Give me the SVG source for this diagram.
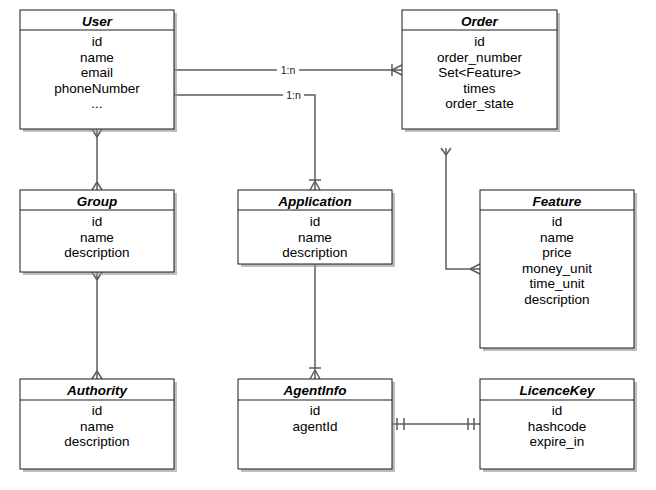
<svg xmlns="http://www.w3.org/2000/svg" width="656" height="490" viewBox="0 0 656 490">
<style>
.shadow{fill:#9a9a9a;opacity:0.65}
.box{fill:#fff;stroke:#1a1a1a;stroke-width:1}
.hl{stroke:#1a1a1a;stroke-width:1}
.title{font-family:"Liberation Sans",Arial,sans-serif;font-size:13.5px;font-weight:bold;font-style:italic;text-anchor:middle;fill:#000}
.attr{font-family:"Liberation Sans",Arial,sans-serif;font-size:13.5px;text-anchor:middle;fill:#000}
.lbl{font-family:"Liberation Sans",Arial,sans-serif;font-size:10.5px;text-anchor:middle;fill:#222}
.edge{fill:none;stroke:#5c5c5c;stroke-width:1.5}
</style>
<rect width="656" height="490" fill="#fff"/>

<g id="connectors">
  <!-- User - Order -->
  <path class="edge" d="M174,70 H402"/>
  <path class="edge" d="M392,64 V76 M392,70 L402,65 M392,70 L402,75"/>
  <rect x="277" y="63" width="22" height="13" fill="#fff"/>
  <text class="lbl" x="288" y="73.5">1:n</text>
  <!-- User - Application -->
  <path class="edge" d="M174,95 H315 V190"/>
  <path class="edge" d="M309,180 H321 M315,181 L310,190 M315,181 L320,190"/>
  <rect x="283" y="88" width="21" height="13" fill="#fff"/>
  <text class="lbl" x="293.5" y="98.5">1:n</text>
  <!-- User - Group -->
  <path class="edge" d="M97,129 V190"/>
  <path class="edge" d="M97,137 L92,129 M97,137 L102,129"/>
  <path class="edge" d="M97,182 L92,190 M97,182 L102,190"/>
  <!-- Group - Authority -->
  <path class="edge" d="M97,272 V379"/>
  <path class="edge" d="M97,280 L92,272 M97,280 L102,272"/>
  <path class="edge" d="M97,371 L92,379 M97,371 L102,379"/>
  <!-- Application - AgentInfo -->
  <path class="edge" d="M315,264 V379"/>
  <path class="edge" d="M309,368 H321 M315,370 L310,379 M315,370 L320,379"/>
  <!-- Order - Feature -->
  <path class="edge" d="M446,148 V269 H480"/>
  <path class="edge" d="M446,155 L441,148 M446,155 L451,148"/>
  <path class="edge" d="M470,269 L480,264 M470,269 L480,274"/>
  <!-- AgentInfo - LicenceKey -->
  <path class="edge" d="M392,424 H480"/>
  <path class="edge" d="M397,418 V430 M404,418 V430 M468,418 V430 M474,418 V430"/>
</g>

<g id="User">
  <rect class="shadow" x="23" y="13" width="154" height="119"/>
  <rect class="box" x="20" y="10" width="154" height="119"/>
  <line class="hl" x1="20" y1="30" x2="174" y2="30"/>
  <text class="title" x="97" y="26">User</text>
  <text class="attr" x="97" y="46">id</text>
  <text class="attr" x="97" y="61.6">name</text>
  <text class="attr" x="97" y="77.2">email</text>
  <text class="attr" x="97" y="92.8">phoneNumber</text>
  <text class="attr" x="97" y="108.4">...</text>
</g>

<g id="Order">
  <rect class="shadow" x="405" y="13" width="155" height="119"/>
  <rect class="box" x="402" y="10" width="155" height="119"/>
  <line class="hl" x1="402" y1="30" x2="557" y2="30"/>
  <text class="title" x="479.5" y="26">Order</text>
  <text class="attr" x="479.5" y="46">id</text>
  <text class="attr" x="479.5" y="61.6">order_number</text>
  <text class="attr" x="479.5" y="77.2">Set&lt;Feature&gt;</text>
  <text class="attr" x="479.5" y="92.8">times</text>
  <text class="attr" x="479.5" y="108.4">order_state</text>
</g>

<g id="Group">
  <rect class="shadow" x="23" y="193" width="154" height="82"/>
  <rect class="box" x="20" y="190" width="154" height="82"/>
  <line class="hl" x1="20" y1="210" x2="174" y2="210"/>
  <text class="title" x="97" y="206">Group</text>
  <text class="attr" x="97" y="226">id</text>
  <text class="attr" x="97" y="241.6">name</text>
  <text class="attr" x="97" y="257.2">description</text>
</g>

<g id="Application">
  <rect class="shadow" x="241" y="193" width="154" height="74"/>
  <rect class="box" x="238" y="190" width="154" height="74"/>
  <line class="hl" x1="238" y1="210" x2="392" y2="210"/>
  <text class="title" x="315" y="206">Application</text>
  <text class="attr" x="315" y="226">id</text>
  <text class="attr" x="315" y="241.6">name</text>
  <text class="attr" x="315" y="257.2">description</text>
</g>

<g id="Feature">
  <rect class="shadow" x="483" y="193" width="154" height="158"/>
  <rect class="box" x="480" y="190" width="154" height="158"/>
  <line class="hl" x1="480" y1="210" x2="634" y2="210"/>
  <text class="title" x="557" y="206">Feature</text>
  <text class="attr" x="557" y="226">id</text>
  <text class="attr" x="557" y="241.6">name</text>
  <text class="attr" x="557" y="257.2">price</text>
  <text class="attr" x="557" y="272.8">money_unit</text>
  <text class="attr" x="557" y="288.4">time_unit</text>
  <text class="attr" x="557" y="304">description</text>
</g>

<g id="Authority">
  <rect class="shadow" x="23" y="382" width="154" height="90"/>
  <rect class="box" x="20" y="379" width="154" height="90"/>
  <line class="hl" x1="20" y1="400" x2="174" y2="400"/>
  <text class="title" x="97" y="395">Authority</text>
  <text class="attr" x="97" y="415">id</text>
  <text class="attr" x="97" y="430.6">name</text>
  <text class="attr" x="97" y="446.2">description</text>
</g>

<g id="AgentInfo">
  <rect class="shadow" x="241" y="382" width="154" height="90"/>
  <rect class="box" x="238" y="379" width="154" height="90"/>
  <line class="hl" x1="238" y1="400" x2="392" y2="400"/>
  <text class="title" x="315" y="395">AgentInfo</text>
  <text class="attr" x="315" y="415">id</text>
  <text class="attr" x="315" y="430.6">agentId</text>
</g>

<g id="LicenceKey">
  <rect class="shadow" x="483" y="382" width="154" height="90"/>
  <rect class="box" x="480" y="379" width="154" height="90"/>
  <line class="hl" x1="480" y1="400" x2="634" y2="400"/>
  <text class="title" x="557" y="395">LicenceKey</text>
  <text class="attr" x="557" y="415">id</text>
  <text class="attr" x="557" y="430.6">hashcode</text>
  <text class="attr" x="557" y="446.2">expire_in</text>
</g>
</svg>
